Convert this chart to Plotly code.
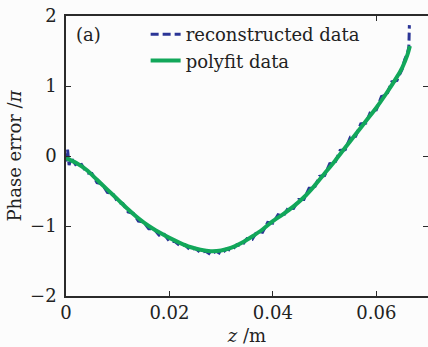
import plotly.graph_objects as go

# Polynomial fit of the phase error (units of pi) along z (m)
fit_z = [0.000, 0.002, 0.004, 0.006, 0.008, 0.010, 0.012, 0.014, 0.016, 0.018,
         0.020, 0.022, 0.024, 0.026, 0.028, 0.030, 0.032, 0.034, 0.036, 0.038,
         0.040, 0.042, 0.044, 0.046, 0.048, 0.050, 0.052, 0.054, 0.056, 0.058,
         0.060, 0.062, 0.064, 0.065, 0.066, 0.0665]
fit_phase = [-0.03, -0.10, -0.20, -0.34, -0.48, -0.62, -0.76, -0.89, -1.00, -1.09,
             -1.17, -1.24, -1.30, -1.34, -1.36, -1.35, -1.31, -1.24, -1.15, -1.05,
             -0.93, -0.83, -0.72, -0.59, -0.43, -0.25, -0.07, 0.12, 0.31, 0.50,
             0.69, 0.90, 1.13, 1.26, 1.44, 1.57]

# Reconstructed phase error samples
rec_z = [0.0000, 0.0003, 0.0006, 0.001, 0.002, 0.003, 0.004, 0.005, 0.006, 0.007,
         0.008, 0.009, 0.010, 0.011, 0.012, 0.013, 0.014, 0.015, 0.016, 0.017,
         0.018, 0.019, 0.020, 0.021, 0.022, 0.023, 0.024, 0.025, 0.026, 0.027,
         0.028, 0.029, 0.030, 0.031, 0.032, 0.033, 0.034, 0.035, 0.036, 0.037,
         0.038, 0.039, 0.040, 0.041, 0.042, 0.043, 0.044, 0.045, 0.046, 0.047,
         0.048, 0.049, 0.050, 0.051, 0.052, 0.053, 0.054, 0.055, 0.056, 0.057,
         0.058, 0.059, 0.060, 0.061, 0.062, 0.063, 0.064, 0.065, 0.0655, 0.066,
         0.0663, 0.0664]
rec_phase = [-0.08, 0.09, -0.13, -0.03, -0.14, -0.12, -0.24, -0.25, -0.38, -0.40,
             -0.52, -0.53, -0.66, -0.68, -0.80, -0.82, -0.93, -0.94, -1.04, -1.04,
             -1.13, -1.12, -1.22, -1.22, -1.28, -1.27, -1.34, -1.32, -1.38, -1.36,
             -1.41, -1.36, -1.40, -1.33, -1.35, -1.27, -1.28, -1.18, -1.19, -1.07,
             -1.09, -0.95, -0.96, -0.84, -0.86, -0.74, -0.75, -0.62, -0.62, -0.46,
             -0.46, -0.29, -0.28, -0.11, -0.10, 0.08, 0.09, 0.27, 0.28, 0.46,
             0.47, 0.65, 0.66, 0.85, 0.87, 1.06, 1.08, 1.24, 1.38, 1.46,
             1.56, 1.87]

x_ticks = [0, 0.02, 0.04, 0.06]
x_labels = ["0", "0.02", "0.04", "0.06"]
y_ticks = [-2, -1, 0, 1, 2]
y_labels = ["\u22122", "\u22121", "0", "1", "2"]

FONT = "DejaVu Serif"
AXIS_COLOR = "#2b2b2b"
TEXT_COLOR = "#222222"

fig = go.Figure()
fig.add_trace(go.Scatter(
    x=rec_z, y=rec_phase, mode="lines", name="reconstructed data",
    line=dict(color="#2b3596", width=3, dash="8px,4px"),
))
fig.add_trace(go.Scatter(
    x=fit_z, y=fit_phase, mode="lines", name="polyfit data",
    line=dict(color="#12a75a", width=4, shape="spline", smoothing=0.8),
))
# invisible trace carrying the right-hand tick marks
fig.add_trace(go.Scatter(x=[None], y=[None], yaxis="y2", showlegend=False,
                         hoverinfo="skip"))

fig.update_layout(
    width=428, height=347,
    margin=dict(l=66, r=0, t=16, b=51),
    paper_bgcolor="#fcfcfc", plot_bgcolor="#fcfcfc",
    font=dict(family=FONT, size=18, color=TEXT_COLOR),
    showlegend=True,
    legend=dict(
        x=0.22, y=1.0, xanchor="left", yanchor="top",
        bgcolor="rgba(252,252,252,1)", borderwidth=0,
        font=dict(family=FONT, size=18, color=TEXT_COLOR),
        tracegroupgap=0, itemwidth=30,
    ),
    xaxis=dict(
        range=[0, 0.07], tickvals=x_ticks, ticktext=x_labels,
        showline=True, linecolor=AXIS_COLOR, linewidth=1.5, mirror="ticks",
        ticks="inside", ticklen=5, tickcolor=AXIS_COLOR, tickwidth=1,
        showgrid=False, zeroline=False,
        title=dict(text="<i>z</i> /m", standoff=7, font=dict(size=18)),
        tickfont=dict(size=18),
    ),
    yaxis=dict(
        range=[-2, 2], tickvals=y_ticks, ticktext=y_labels,
        showline=True, linecolor=AXIS_COLOR, linewidth=1.5,
        ticks="inside", ticklen=5, tickcolor=AXIS_COLOR, tickwidth=1,
        showgrid=False, zeroline=False, ticklabelstandoff=4,
        title=dict(text="Phase error /<i>\u03c0</i>", standoff=4, font=dict(size=18)),
        tickfont=dict(size=18),
    ),
    yaxis2=dict(
        range=[-2, 2], tickvals=y_ticks, overlaying="y", side="right",
        showline=False, ticks="inside", ticklen=5, tickcolor=AXIS_COLOR,
        showticklabels=False, showgrid=False, zeroline=False,
    ),
    annotations=[dict(
        text="(a)", xref="paper", yref="paper", x=0.022, y=0.935,
        xanchor="left", yanchor="middle", showarrow=False,
        font=dict(family=FONT, size=18, color=TEXT_COLOR),
    )],
)

fig.write_html("out.html")
